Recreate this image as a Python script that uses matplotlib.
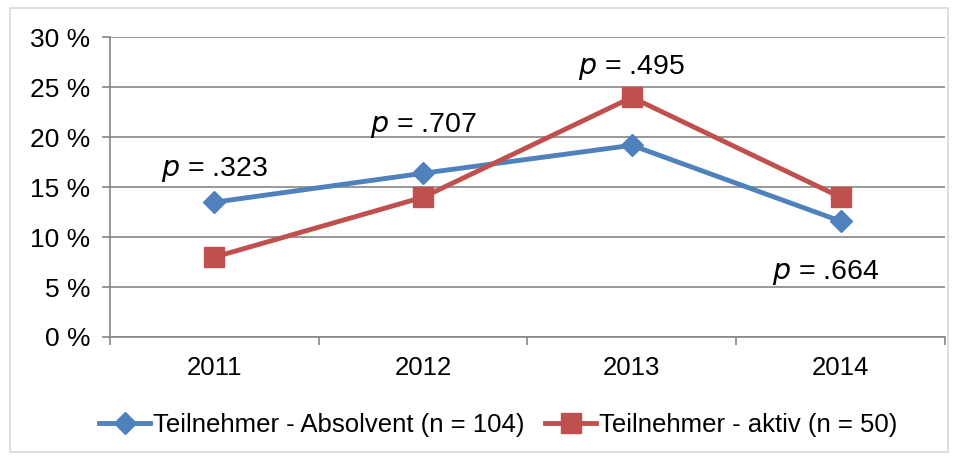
import numpy as np
import matplotlib.pyplot as plt
from matplotlib.patches import Rectangle

plt.rcParams['font.family'] = ['Liberation Sans', 'DejaVu Sans']

# ---- data ----
years = ['2011', '2012', '2013', '2014']
absolvent = [13.5, 16.4, 19.2, 11.6]
aktiv = [8.0, 14.0, 24.0, 14.0]
p_labels = ['.323', '.707', '.495', '.664']
p_y = [16.8, 21.2, 27.0, 6.5]
p_dx = [0.0, 0.0, 0.0, -0.07]

x = np.arange(len(years))

fig = plt.figure(figsize=(9.58, 4.57), dpi=100)
ax = fig.add_axes([0.1148, 0.2626, 0.8716, 0.6554])

# outer chart border
fig.patches.append(Rectangle((10 / 958, 1 - 452 / 457), 938 / 958, 444 / 457,
                             transform=fig.transFigure, fill=False,
                             edgecolor='#d9d9d9', linewidth=1.2))

ax.plot(x, absolvent, color='#4F81BD', linewidth=3.5, marker='D', markersize=11.5,
        label='Teilnehmer - Absolvent (n = 104)', zorder=3)
ax.plot(x, aktiv, color='#C0504D', linewidth=3.5, marker='s', markersize=14.5,
        label='Teilnehmer - aktiv (n = 50)', zorder=3)

for i in range(len(years)):
    ax.text(x[i] + p_dx[i], p_y[i], '$p$ = ' + p_labels[i], ha='center', va='center', fontsize=20.5)

ax.set_xlim(-0.5, 3.5)
ax.set_ylim(0, 30)
ax.set_yticks(np.arange(0, 31, 5))
ax.set_yticklabels([f'{v} %' for v in range(0, 31, 5)], fontsize=19)
ax.set_xticks(x)
ax.set_xticklabels(years, fontsize=18.5)
ax.tick_params(axis='x', which='major', length=0, pad=14)
ax.set_xticks(np.arange(-0.5, 4, 1), minor=True)
ax.tick_params(axis='x', which='minor', length=6, color='#868686', width=1.2)
ax.tick_params(axis='y', length=6, color='#868686', width=1.2, pad=8)

ax.grid(axis='y', color='#868686', linewidth=1.2)
ax.set_axisbelow(True)
for s in ['top', 'right']:
    ax.spines[s].set_visible(False)
for s in ['left', 'bottom']:
    ax.spines[s].set_color('#868686')
    ax.spines[s].set_linewidth(1.2)

ax.legend(loc='center', bbox_to_anchor=(0.465, -0.293), ncol=2, frameon=False,
          fontsize=18.5, handlelength=2.0, handletextpad=0.1, columnspacing=0.8)

fig.savefig('out.png', dpi=100)
